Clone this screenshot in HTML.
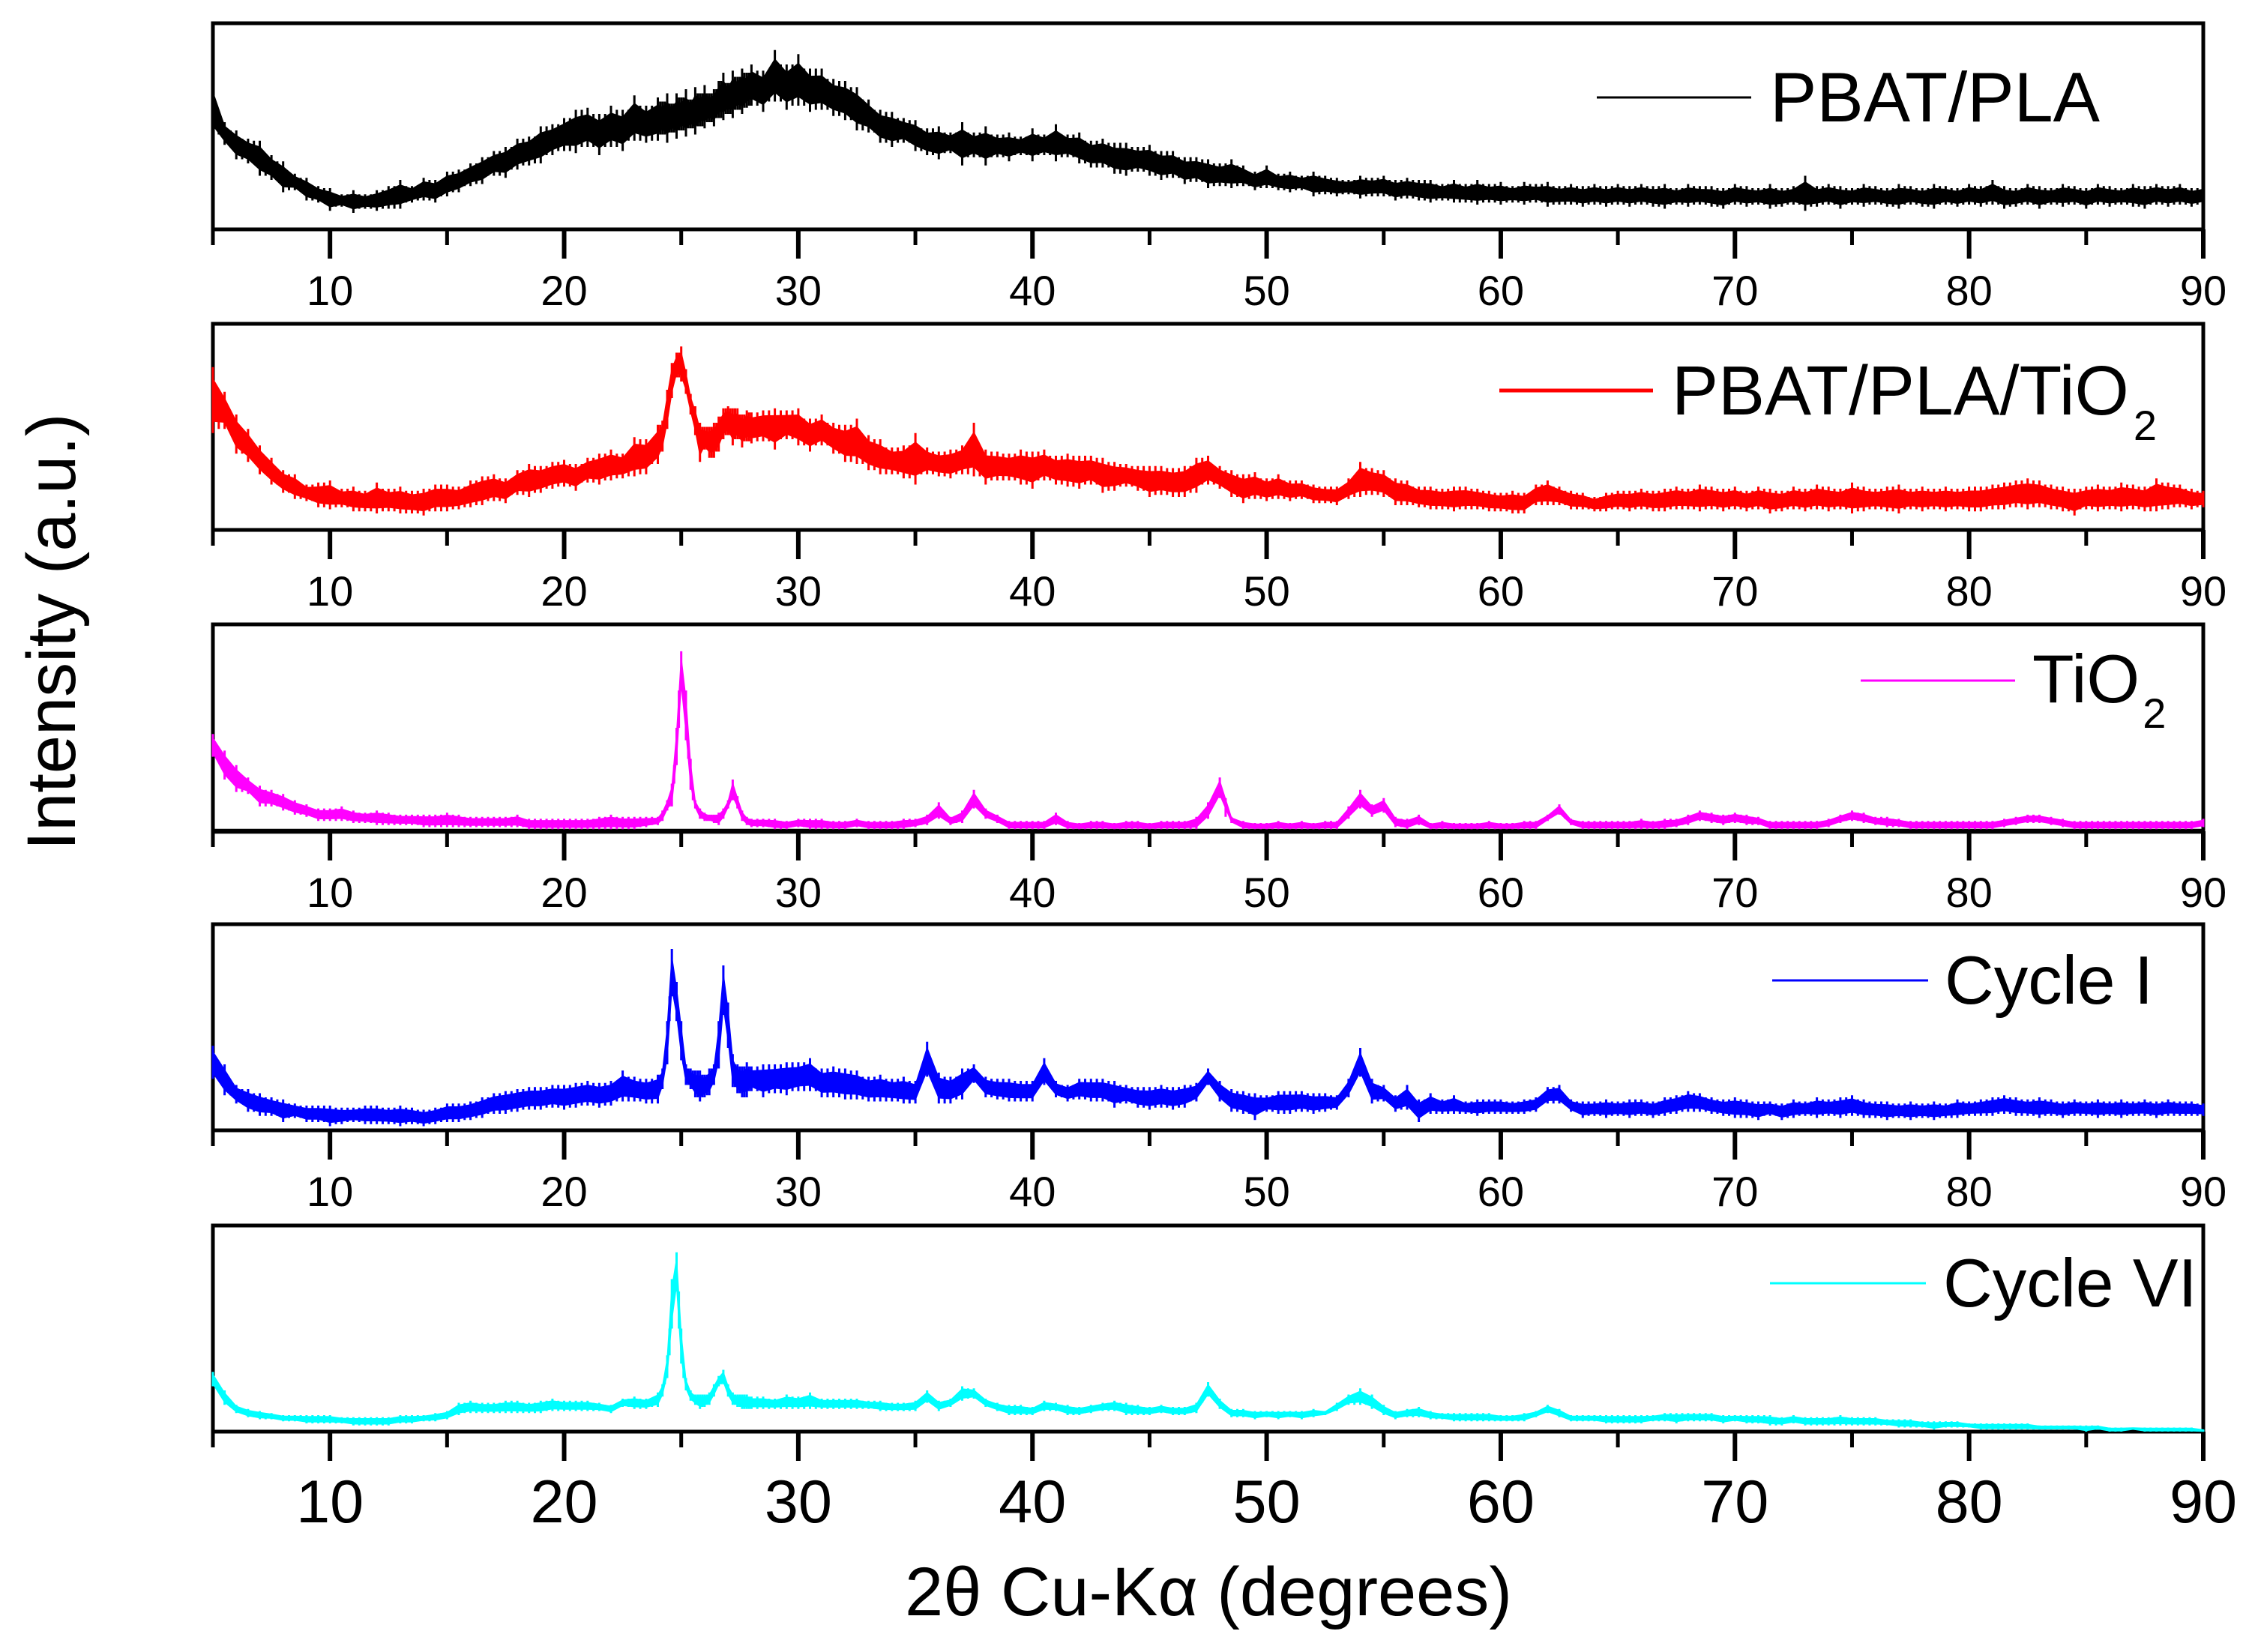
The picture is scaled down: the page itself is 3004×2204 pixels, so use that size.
<!DOCTYPE html>
<html lang="en">
<head>
<meta charset="utf-8">
<title>XRD patterns</title>
<style>
html,body{margin:0;padding:0;background:#fff}
svg{display:block}
text{font-family:"Liberation Sans",Arial,sans-serif;fill:#000}
</style>
</head>
<body>
<svg id="chart" xmlns="http://www.w3.org/2000/svg" width="3004" height="2204" viewBox="0 0 3004 2204">
<rect x="0" y="0" width="3004" height="2204" fill="#fff"/>
<g id="panels"></g>

<g>
<line x1="2130" x2="2336" y1="130" y2="130" stroke="#000" stroke-width="3"/>
<text x="2361" y="162" font-size="93.5">PBAT/PLA</text>
</g>
<g>
<line x1="2000" x2="2205" y1="521" y2="521" stroke="#f00" stroke-width="5"/>
<text x="2230" y="553" font-size="93">PBAT/PLA/TiO<tspan font-size="56" dy="34" dx="6">2</tspan></text>
</g>
<g>
<line x1="2482" x2="2688" y1="908" y2="908" stroke="#f0f" stroke-width="3"/>
<text x="2711" y="937" font-size="91">TiO<tspan font-size="56" dy="34" dx="4">2</tspan></text>
</g>
<g>
<line x1="2364" x2="2572" y1="1308" y2="1308" stroke="#00f" stroke-width="3"/>
<text x="2594" y="1339" font-size="91">Cycle I</text>
</g>
<g>
<line x1="2361" x2="2569" y1="1712" y2="1712" stroke="#0ff" stroke-width="3"/>
<text x="2592" y="1743" font-size="91">Cycle VI</text>
</g>

<text transform="translate(100 843) rotate(-90)" text-anchor="middle" font-size="92">Intensity (a.u.)</text>
<text x="1612" y="2155" text-anchor="middle" font-size="92">2θ Cu-Kα (degrees)</text>
</svg>

<script>
// Shared 2-theta sampling grid (degrees), finer around the main anatase peaks.
const angles = [
5,5.5,6,6.5,7,7.5,8,8.5,9,9.5,10,10.5,11,11.5,12,12.5,13,13.5,14,14.5,15,15.5,16,16.5,17,17.5,18,18.5,19,19.5,20,20.5,21,21.5,22,22.5,23,23.5,
24,24.2,24.4,24.6,24.8,25,25.2,25.4,25.6,25.8,26,26.2,26.4,26.6,26.8,27,27.2,27.4,27.6,27.8,28,
28.5,29,29.5,30,30.5,31,31.5,32,32.5,33,33.5,34,34.5,35,35.5,36,36.5,37,37.5,38,38.5,39,39.5,40,
40.5,41,41.5,42,42.5,43,43.5,44,44.5,45,45.5,46,46.5,47,47.5,48,48.5,49,49.5,50,
50.5,51,51.5,52,52.5,53,53.5,54,54.5,55,55.5,56,56.5,57,57.5,58,58.5,59,59.5,60,
60.5,61,61.5,62,62.5,63,63.5,64,64.5,65,65.5,66,66.5,67,67.5,68,68.5,69,69.5,70,
70.5,71,71.5,72,72.5,73,73.5,74,74.5,75,75.5,76,76.5,77,77.5,78,78.5,79,79.5,80,
80.5,81,81.5,82,82.5,83,83.5,84,84.5,85,85.5,86,86.5,87,87.5,88,88.5,89,89.5,90];

// Tick values
const majorTicks = [10,20,30,40,50,60,70,80,90];
const minorTicks = [5,15,25,35,45,55,65,75,85];
const tickLabels = ["10","20","30","40","50","60","70","80","90"];

// Noise-band envelopes of each trace (intensity, % of panel height)
const pbatPlaUpper = [
71,52,48,44,43,36,33,27,25,21,20,17,19,17,19,21,24,21,25,24,28,29,32,35,38,40,44,45,50,51,54,58,59,56,60,58,65,60,
64,62,66,61,66,64,68,63,69,66,70,66,68,72,76,71,77,74,78,76,80,
77,87,80,85,78,78,73,72,69,63,58,57,54,53,49,50,47,52,47,50,46,47,45,49,
46,51,46,47,43,44,42,42,40,41,38,38,35,35,34,32,34,31,28,31,
27,28,26,28,26,25,24,26,25,26,24,25,24,24,22,24,22,24,22,23,
21,23,22,23,21,22,21,22,21,22,21,22,21,22,20,22,21,21,20,22,
21,20,22,20,21,26,21,22,21,20,22,21,20,22,21,20,22,21,20,22,
21,24,21,20,22,21,20,22,21,20,22,21,20,22,21,22,21,22,20,21];
const pbatPlaLower = [
46,41,34,32,26,24,18,19,14,13,9,11,8,10,9,10,10,13,14,13,16,18,21,22,26,25,29,31,32,36,38,37,40,36,40,38,43,42,
43,46,42,47,44,48,45,49,46,50,49,52,50,54,53,56,54,58,56,59,60,
57,62,58,60,57,58,55,53,48,47,42,40,42,38,36,34,37,31,35,31,35,33,36,33,
36,33,35,32,30,30,27,26,28,26,24,25,22,23,20,21,20,21,19,20,
19,18,19,16,17,16,17,15,16,16,14,15,14,13,14,13,13,12,13,12,
13,12,13,11,12,12,11,12,11,12,11,12,11,10,12,11,12,11,10,12,
11,12,10,11,12,9,11,12,10,12,11,12,11,10,12,11,10,12,11,12,
11,12,10,11,12,10,12,11,12,10,12,11,12,11,10,12,11,12,11,12];

const pbatPlaTioUpper = [
79,67,56,49,41,35,29,27,22,23,24,20,21,19,23,20,21,19,20,22,22,21,24,26,27,25,29,32,31,33,34,32,35,37,39,37,45,44,
51,53,68,81,86,89,78,66,60,52,50,50,52,55,59,60,59,59,56,58,57,
58,59,58,59,54,56,52,51,54,46,44,40,41,47,40,38,39,41,52,39,38,37,39,38,
39,36,37,36,36,35,33,32,31,31,31,30,31,35,36,31,29,27,28,25,
27,24,24,22,21,21,25,33,30,29,25,24,21,21,20,21,21,20,19,18,
19,18,22,24,21,19,18,16,18,19,19,20,19,20,21,20,22,21,20,21,
19,21,20,19,21,20,22,21,20,23,21,20,21,22,20,21,20,21,20,21,
21,22,23,24,25,24,22,21,20,21,22,21,23,22,21,25,23,22,20,19];
const pbatPlaTioLower = [
47,49,37,33,27,22,18,15,14,11,10,11,9,9,8,9,8,8,7,9,9,10,11,12,14,13,17,16,18,20,21,19,23,22,24,25,26,27,
32,38,49,64,74,72,66,56,46,33,39,35,35,38,44,46,41,44,40,43,42,
43,39,44,41,38,41,37,33,32,29,27,27,25,22,27,26,25,27,26,22,24,24,22,20,
24,22,21,20,22,18,19,21,19,16,17,16,16,18,22,20,16,13,15,14,
15,14,15,13,13,12,15,16,17,16,12,12,11,10,10,9,10,10,9,9,
8,8,12,12,12,10,10,9,9,10,9,10,9,9,10,10,9,10,9,10,
9,10,8,9,10,9,10,9,10,8,9,10,9,8,10,9,10,9,10,9,
9,10,10,11,10,11,10,9,7,10,9,10,9,10,9,9,10,11,10,11];

const tioUpper = [
47,39,32,26,22,20,18,15,13,11,11,12,10,9,10,9,8,8,8,8,9,8,7,7,7,7,8,6,6,6,6,6,6,7,8,7,7,7,
7,10,15,23,50,87,68,35,15,11,9,8,8,9,11,15,25,17,10,7,6,
6,6,5,6,6,6,5,5,6,5,5,5,6,6,8,14,7,10,20,11,8,5,5,5,
5,9,5,4,5,5,4,5,5,4,5,5,5,7,14,26,7,5,4,4,
5,4,5,4,5,5,12,20,13,16,7,6,8,4,5,4,4,4,5,4,
4,5,5,8,13,6,5,5,5,5,5,6,5,6,6,8,10,9,8,9,
8,7,5,5,5,5,5,6,8,10,9,7,7,6,5,5,5,5,5,5,
5,5,6,7,8,8,7,6,5,5,5,5,5,5,5,5,5,5,5,6];
const tioLower = [
36,25,19,18,12,12,10,8,7,5,5,5,4,4,3,3,3,3,2,2,2,2,2,2,2,2,2,1,1,1,1,1,1,1,1,1,1,2,
3,5,10,12,32,68,44,20,11,6,5,5,4,3,6,11,15,11,5,3,2,
2,1,1,2,1,1,1,1,2,1,1,1,1,2,3,6,3,4,11,6,4,1,1,1,
1,3,1,1,1,1,1,1,1,1,1,1,1,1,6,16,4,1,1,1,
1,1,1,1,1,1,6,11,7,9,2,1,3,1,1,1,1,1,1,1,
1,1,1,5,8,3,1,1,1,1,1,1,1,1,2,3,5,4,3,4,
3,3,1,1,1,1,1,2,4,5,4,3,2,2,1,1,1,1,1,1,
1,1,2,3,4,4,3,2,1,1,1,1,1,1,1,1,1,1,1,2];

const cycleOneUpper = [
41,32,22,20,18,16,15,13,12,12,12,11,11,12,12,11,12,11,10,11,13,13,14,16,18,19,20,21,21,22,22,23,24,23,24,29,26,25,
27,30,53,88,72,53,32,30,29,29,27,30,32,53,80,62,37,32,31,33,31,
32,32,33,33,35,30,31,30,29,26,27,25,26,24,43,28,26,30,32,26,25,25,24,24,
35,24,22,25,25,25,24,22,21,21,22,21,22,23,30,24,20,19,18,17,
19,19,19,18,18,17,25,40,25,22,17,22,15,18,15,17,14,15,15,15,
14,15,16,21,22,15,14,14,15,14,15,15,14,16,17,19,18,16,15,16,
15,14,14,13,15,14,16,15,16,17,15,14,14,13,14,13,14,13,15,14,
15,16,17,16,15,16,15,14,15,14,15,14,15,14,15,14,15,14,14,13];
const cycleOneLower = [
25,17,13,9,7,7,4,6,4,4,2,3,4,3,3,3,2,3,2,3,4,4,5,6,8,8,9,10,10,11,10,11,12,11,12,14,14,13,
13,20,32,65,53,34,22,20,16,14,16,17,22,30,56,40,21,18,16,16,19,
16,18,17,19,19,16,16,15,15,14,14,14,13,13,26,13,13,15,23,16,15,14,14,14,
22,16,14,15,14,14,11,13,11,10,11,10,11,14,22,14,9,8,5,9,
8,8,9,8,9,10,16,26,13,14,9,10,4,8,8,8,8,7,8,8,
8,8,9,13,13,9,6,7,6,7,6,7,6,7,8,9,9,8,7,6,
6,5,7,5,6,7,6,7,6,7,6,6,5,6,5,6,5,6,6,7,
7,7,8,7,7,6,7,6,7,7,6,7,6,7,7,6,7,7,7,7];

const cycleSixUpper = [
29,20,13,11,10,9,8,8,8,8,8,7,7,7,7,7,8,8,8,9,10,14,15,14,14,15,15,14,15,16,15,15,15,14,13,16,17,16,
19,23,37,74,87,50,26,20,18,18,18,19,23,27,30,23,19,18,18,18,17,
17,16,18,17,19,16,16,16,16,15,15,14,14,15,20,15,16,22,21,16,14,13,13,12,
15,14,13,12,13,14,15,14,13,12,13,12,12,14,24,16,11,11,10,10,
10,10,10,11,10,14,18,21,18,13,10,11,12,10,9,9,9,9,9,8,
8,9,10,13,11,8,8,8,8,8,8,8,8,9,9,9,9,9,8,8,
8,8,8,7,8,7,7,7,8,7,7,7,6,6,6,5,5,5,5,4,
4,4,4,4,4,3,3,3,3,3,3,2,2,2,2,2,2,2,2,1];
const cycleSixLower = [
22,13,9,7,6,6,5,5,4,4,4,4,3,3,3,3,4,4,5,5,6,8,9,9,9,9,9,9,9,10,10,10,10,10,9,12,11,11,
12,17,26,50,68,33,20,15,13,11,12,13,17,22,23,17,13,12,11,11,11,
11,11,11,11,11,11,11,11,11,11,10,10,10,10,14,10,12,15,16,12,10,8,8,8,
10,10,8,8,9,10,10,8,8,8,9,8,8,9,17,11,7,7,6,7,
6,7,6,7,8,10,13,13,11,8,6,7,7,6,6,5,5,5,5,5,
5,5,7,9,7,5,5,5,4,4,4,4,5,5,4,5,5,5,4,5,
4,4,3,3,4,3,3,3,3,3,3,3,3,2,2,2,1,2,2,2,
1,1,1,1,1,1,1,1,1,0,1,0,0,1,0,0,0,0,0,0];

const plotLeft = 284, plotRight = 2939, domainMin = 5, domainMax = 90;
const panelDefs = [
  {key:'pbat-pla',      top:31,   bottom:306,  color:'#000', upper:pbatPlaUpper,    lower:pbatPlaLower,    labelSize:56, labelGap:101, baseWidth:5},
  {key:'pbat-pla-tio2', top:432,  bottom:707,  color:'#f00', upper:pbatPlaTioUpper, lower:pbatPlaTioLower, labelSize:56, labelGap:101, baseWidth:5},
  {key:'tio2',          top:833,  bottom:1109, color:'#f0f', upper:tioUpper,        lower:tioLower,        labelSize:56, labelGap:101, baseWidth:6.5},
  {key:'cycle-i',       top:1233, bottom:1508, color:'#00f', upper:cycleOneUpper,   lower:cycleOneLower,   labelSize:56, labelGap:101, baseWidth:5},
  {key:'cycle-vi',      top:1635, bottom:1910, color:'#0ff', upper:cycleSixUpper,   lower:cycleSixLower,   labelSize:81, labelGap:121, baseWidth:5}
];

const NS = 'http://www.w3.org/2000/svg';
function xScale(deg){ return plotLeft + (deg - domainMin) / (domainMax - domainMin) * (plotRight - plotLeft); }
function yScale(panel, pct){ return panel.bottom - pct / 100 * (panel.bottom - panel.top); }
function create(tag, attrs, parent){
  const el = document.createElementNS(NS, tag);
  for (const k in attrs) el.setAttribute(k, attrs[k]);
  parent.appendChild(el);
  return el;
}

const root = document.getElementById('panels');
panelDefs.forEach(function(panel){
  const g = create('g', {}, root);
  
  

  const frame = create('path', {
    d: 'M' + plotLeft + ' ' + panel.bottom + 'V' + panel.top + 'H' + plotRight + 'V' + panel.bottom,
    fill: 'none', stroke: '#000', 'stroke-width': 5
  }, g);
  
  

  const baseAxis = create('line', {
    x1: plotLeft - 2.5, x2: plotRight + 2.5, y1: panel.bottom, y2: panel.bottom,
    stroke: '#000', 'stroke-width': panel.baseWidth
  }, g);
  
  

  majorTicks.forEach(function(v, i){
    const tick = create('line', {
      x1: xScale(v), x2: xScale(v), y1: panel.bottom, y2: panel.bottom + 39,
      stroke: '#000', 'stroke-width': 6
    }, g);
    
    

    const label = create('text', {
      x: xScale(v), y: panel.bottom + panel.labelGap,
      'text-anchor': 'middle', 'font-size': panel.labelSize
    }, g);
    label.textContent = tickLabels[i];
    
    
  });

  minorTicks.forEach(function(v){
    const tick = create('line', {
      x1: xScale(v), x2: xScale(v), y1: panel.bottom, y2: panel.bottom + 21,
      stroke: '#000', 'stroke-width': 5
    }, g);
    
    
  });

  // Solid core of the noisy trace: envelope inset by a fraction of its height.
  const inset = 0.18;
  let core = '';
  angles.forEach(function(a, i){
    const u = panel.upper[i] - inset * (panel.upper[i] - panel.lower[i]);
    core += (i ? 'L' : 'M') + xScale(a).toFixed(1) + ' ' + yScale(panel, u).toFixed(1);
  });
  for (let i = angles.length - 1; i >= 0; i--) {
    const l = panel.lower[i] + inset * (panel.upper[i] - panel.lower[i]);
    core += 'L' + xScale(angles[i]).toFixed(1) + ' ' + yScale(panel, l).toFixed(1);
  }
  const trace = create('path', {
    d: core + 'Z', fill: panel.color, stroke: panel.color, 'stroke-width': 1.5
  }, g);
  
  

  // Thin noise spikes reaching the envelope at each sample and between samples.
  let spikes = '';
  angles.forEach(function(a, i){
    const x = xScale(a).toFixed(1);
    spikes += 'M' + x + ' ' + yScale(panel, panel.upper[i]).toFixed(1) + 'V' + yScale(panel, panel.lower[i]).toFixed(1);
    if (i < angles.length - 1) {
      const xm = ((xScale(a) + xScale(angles[i + 1])) / 2).toFixed(1);
      const top = Math.min(panel.upper[i], panel.upper[i + 1]);
      const low = Math.max(panel.lower[i], panel.lower[i + 1]);
      spikes += 'M' + xm + ' ' + yScale(panel, top).toFixed(1) + 'V' + yScale(panel, low).toFixed(1);
    }
  });
  const spikePath = create('path', {
    d: spikes, fill: 'none', stroke: panel.color, 'stroke-width': 3
  }, g);
  
  
});
</script>
</body>
</html>
